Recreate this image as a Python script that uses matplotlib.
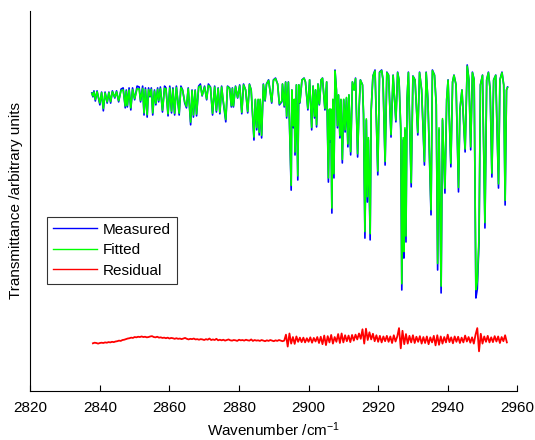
import matplotlib
matplotlib.use("Agg")
import matplotlib.pyplot as plt
import numpy as np

plt.rcParams['font.family'] = ['Liberation Sans', 'DejaVu Sans']
plt.rcParams['mathtext.default'] = 'regular'

# ---- data ----
wavenumber = [
    2837.7, 2838.0, 2838.3, 2838.7, 2839.2, 2840.0, 2840.5, 2841.0, 2841.5, 2842.1,
    2842.6, 2843.1, 2843.6, 2844.3, 2844.8, 2845.4, 2846.1, 2846.7, 2847.3, 2847.6,
    2847.9, 2848.4, 2848.9, 2849.4, 2850.0, 2850.7, 2851.3, 2851.7, 2852.3, 2852.7,
    2853.1, 2853.6, 2854.0, 2854.4, 2854.8, 2855.2, 2855.7, 2856.1, 2856.6, 2856.9,
    2857.4, 2858.0, 2858.6, 2859.0, 2859.6, 2860.1, 2860.6, 2861.0, 2861.5, 2862.0,
    2862.8, 2863.3, 2863.8, 2864.4, 2864.9, 2865.4, 2866.1, 2866.5, 2866.9, 2867.4,
    2867.8, 2868.4, 2868.9, 2869.4, 2870.1, 2870.7, 2871.2, 2871.8, 2872.4, 2873.0,
    2873.5, 2874.0, 2874.5, 2875.0, 2875.4, 2876.2, 2876.7, 2877.3, 2877.8, 2878.1,
    2878.4, 2879.0, 2879.6, 2880.2, 2880.8, 2881.3, 2881.9, 2882.5, 2883.0, 2883.5,
    2884.3, 2884.7, 2885.1, 2885.5, 2885.8, 2886.1, 2886.5, 2887.0, 2887.5, 2887.9,
    2888.5, 2889.4, 2889.9, 2890.5, 2891.1, 2891.6, 2892.3, 2892.5, 2893.0, 2893.4,
    2893.7, 2894.2, 2895.0, 2895.2, 2895.6, 2895.9, 2896.1, 2896.5, 2896.9, 2897.2,
    2897.5, 2898.1, 2898.7, 2899.1, 2899.8, 2900.3, 2900.9, 2901.3, 2901.7, 2902.0,
    2902.3, 2902.7, 2903.1, 2903.6, 2904.0, 2904.7, 2905.2, 2905.7, 2906.0, 2906.2,
    2906.4, 2906.7, 2907.0, 2907.3, 2907.6, 2908.0, 2908.3, 2908.6, 2909.0, 2909.3,
    2909.7, 2910.1, 2910.5, 2910.9, 2911.3, 2911.6, 2912.1, 2912.6, 2913.1, 2913.5,
    2914.1, 2914.5, 2914.9, 2915.5, 2915.8, 2916.2, 2916.6, 2916.9, 2917.2, 2917.7,
    2918.0, 2918.5, 2919.1, 2919.9, 2920.4, 2921.0, 2921.4, 2922.0, 2922.5, 2923.0,
    2923.7, 2924.3, 2925.1, 2925.6, 2926.0, 2926.5, 2926.8, 2927.2, 2927.4, 2927.7,
    2928.0, 2928.3, 2928.7, 2929.5, 2930.0, 2930.6, 2931.4, 2931.9, 2932.5, 2933.3,
    2933.8, 2934.3, 2935.2, 2935.6, 2936.2, 2936.7, 2937.1, 2937.5, 2938.1, 2938.5,
    2939.2, 2939.7, 2940.1, 2940.9, 2941.4, 2941.8, 2942.4, 2943.1, 2943.5, 2944.1,
    2945.0, 2945.6, 2946.1, 2946.6, 2947.1, 2947.6, 2948.1, 2948.5, 2949.0, 2949.4,
    2950.0, 2950.7, 2951.2, 2951.7, 2952.2, 2952.7, 2953.2, 2953.8, 2954.6, 2955.0,
    2955.6, 2956.1, 2956.5, 2956.9, 2957.2,
]

measured = [
    1.000, 0.987, 1.007, 0.973, 1.007, 0.960, 1.003, 0.940, 1.003, 0.966,
    1.003, 0.966, 1.007, 0.983, 1.007, 0.970, 1.013, 1.017, 0.950, 1.010,
    0.953, 1.017, 0.943, 1.017, 0.977, 1.023, 1.020, 0.970, 1.023, 0.926,
    1.017, 0.919, 1.017, 0.987, 1.017, 0.926, 1.010, 0.960, 1.017, 0.970,
    1.020, 0.936, 1.023, 1.017, 0.923, 1.023, 0.933, 1.017, 0.926, 1.023,
    0.926, 1.023, 1.010, 0.966, 0.950, 1.017, 0.893, 1.010, 0.919, 1.010,
    0.923, 1.023, 1.030, 0.990, 1.023, 0.977, 1.030, 1.020, 0.926, 1.023,
    0.936, 1.017, 0.930, 1.023, 0.977, 0.903, 1.023, 1.017, 0.953, 1.017,
    0.953, 1.023, 0.983, 1.027, 0.930, 1.030, 1.010, 0.933, 1.030, 1.010,
    0.842, 0.977, 0.876, 0.977, 0.859, 0.977, 0.849, 1.030, 0.973, 1.030,
    1.044, 0.966, 1.044, 1.050, 1.030, 0.960, 0.970, 1.030, 0.953, 1.037,
    0.916, 1.037, 0.674, 1.010, 0.883, 0.977, 0.792, 1.027, 0.708, 1.027,
    0.966, 1.044, 1.050, 1.037, 0.943, 1.044, 0.876, 1.023, 0.916, 1.010,
    0.886, 1.030, 0.960, 1.044, 1.050, 0.943, 1.037, 0.701, 0.943, 0.836,
    0.943, 0.597, 0.977, 0.715, 1.077, 1.010, 0.883, 0.993, 0.849, 0.977,
    0.765, 0.977, 0.869, 0.983, 0.819, 0.993, 0.792, 1.037, 1.010, 1.050,
    0.785, 0.943, 1.044, 1.027, 0.926, 0.513, 0.909, 0.634, 0.842, 0.507,
    0.943, 1.057, 1.077, 0.725, 1.070, 1.077, 1.044, 0.758, 1.070, 1.060,
    0.852, 1.060, 0.903, 1.070, 1.044, 0.876, 0.339, 0.842, 0.446, 0.876,
    0.500, 0.977, 1.070, 0.685, 1.057, 1.044, 0.859, 1.070, 1.010, 0.758,
    1.070, 0.977, 0.591, 1.077, 1.060, 0.960, 0.406, 0.876, 0.329, 0.909,
    0.664, 0.977, 1.044, 0.752, 1.037, 1.060, 1.027, 0.668, 0.943, 1.010,
    0.802, 1.094, 1.044, 0.809, 1.070, 1.044, 0.312, 0.342, 0.500, 1.027,
    1.060, 0.547, 1.044, 1.070, 1.010, 0.718, 1.044, 1.060, 0.681, 1.044,
    1.070, 1.027, 0.624, 1.010, 1.020,
]

fitted = [
    0.998, 0.990, 1.003, 0.978, 1.004, 0.966, 1.001, 0.948, 1.000, 0.970,
    1.001, 0.971, 1.004, 0.986, 1.004, 0.974, 1.008, 1.010, 0.956, 1.006,
    0.958, 1.010, 0.950, 1.011, 0.981, 1.014, 1.013, 0.975, 1.015, 0.933,
    1.011, 0.927, 1.011, 0.990, 1.012, 0.933, 1.006, 0.965, 1.012, 0.975,
    1.014, 0.942, 1.016, 1.013, 0.930, 1.017, 0.939, 1.013, 0.932, 1.018,
    0.932, 1.018, 1.008, 0.970, 0.955, 1.014, 0.902, 1.008, 0.926, 1.008,
    0.929, 1.019, 1.024, 0.992, 1.020, 0.980, 1.025, 1.018, 0.932, 1.020,
    0.941, 1.015, 0.935, 1.020, 0.980, 0.911, 1.021, 1.015, 0.957, 1.015,
    0.957, 1.021, 0.985, 1.024, 0.935, 1.027, 1.010, 0.938, 1.028, 1.010,
    0.852, 0.979, 0.884, 0.979, 0.868, 0.979, 0.858, 1.028, 0.976, 1.029,
    1.042, 0.970, 1.042, 1.048, 1.030, 0.964, 0.973, 1.030, 0.957, 1.036,
    0.922, 1.036, 0.690, 1.010, 0.890, 0.979, 0.802, 1.027, 0.722, 1.027,
    0.969, 1.043, 1.049, 1.037, 0.948, 1.044, 0.884, 1.023, 0.922, 1.010,
    0.893, 1.030, 0.963, 1.044, 1.049, 0.948, 1.037, 0.715, 0.946, 0.845,
    0.946, 0.614, 0.979, 0.729, 1.074, 1.010, 0.890, 0.994, 0.857, 0.979,
    0.777, 0.979, 0.876, 0.985, 0.829, 0.994, 0.803, 1.037, 1.010, 1.048,
    0.796, 0.946, 1.043, 1.027, 0.930, 0.535, 0.913, 0.652, 0.850, 0.528,
    0.946, 1.056, 1.074, 0.738, 1.068, 1.075, 1.043, 0.770, 1.068, 1.059,
    0.860, 1.059, 0.909, 1.068, 1.043, 0.883, 0.360, 0.850, 0.468, 0.883,
    0.520, 0.979, 1.068, 0.699, 1.056, 1.043, 0.867, 1.068, 1.010, 0.770,
    1.068, 0.979, 0.608, 1.075, 1.059, 0.963, 0.428, 0.883, 0.352, 0.914,
    0.680, 0.979, 1.043, 0.764, 1.037, 1.059, 1.027, 0.683, 0.946, 1.010,
    0.812, 1.090, 1.043, 0.819, 1.068, 1.043, 0.340, 0.368, 0.518, 1.027,
    1.059, 0.565, 1.043, 1.068, 1.010, 0.731, 1.043, 1.059, 0.695, 1.043,
    1.068, 1.027, 0.640, 1.010, 1.018,
]

# residual sampled every 0.5 cm^-1 from 2838.0 to 2957.0
residual_start = 2838.0
residual_step = 0.5
residual = [
    -0.013, -0.011, -0.012, -0.014, -0.012, -0.011, -0.012, -0.010, -0.011, -0.009,
    -0.010, -0.008, -0.009, -0.007, -0.006, -0.004, -0.005, -0.002, -0.001, 0.001,
    0.003, 0.004, 0.006, 0.005, 0.008, 0.007, 0.009, 0.008, 0.010, 0.008,
    0.009, 0.007, 0.008, 0.010, 0.011, 0.008, 0.007, 0.009, 0.006, 0.007,
    0.005, 0.006, 0.004, 0.006, 0.003, 0.005, 0.004, 0.002, 0.004, 0.002,
    0.003, 0.001, 0.003, 0.005, 0.002, 0.000, 0.002, 0.001, 0.003, 0.000,
    0.001, -0.001, 0.001, 0.000, -0.002, 0.001, -0.001, 0.003, -0.002, 0.000,
    -0.002, 0.002, -0.003, -0.001, -0.003, -0.001, -0.004, -0.002, 0.000, -0.003,
    -0.004, -0.002, -0.003, -0.005, -0.001, -0.003, -0.002, -0.004, -0.001, -0.003,
    -0.004, 0.000, -0.005, -0.002, -0.004, -0.003, -0.005, -0.002, -0.004, -0.006,
    -0.003, -0.005, -0.002, -0.004, -0.006, -0.003, -0.005, -0.002, -0.004, -0.006,
    -0.004, 0.016, -0.024, 0.020, -0.014, 0.008, -0.015, 0.010, -0.008, 0.006,
    -0.009, 0.006, -0.010, 0.004, -0.008, 0.007, -0.011, 0.005, -0.007, 0.008,
    -0.012, 0.009, -0.016, 0.013, -0.019, 0.011, -0.010, 0.015, -0.014, 0.008,
    -0.008, 0.018, -0.012, 0.020, -0.010, 0.014, -0.006, 0.013, -0.009, 0.015,
    -0.004, 0.016, 0.000, 0.020, 0.002, 0.034, -0.014, 0.036, -0.002, 0.024,
    0.000, 0.019, -0.006, 0.014, -0.008, 0.012, -0.010, 0.010, -0.006, 0.012,
    -0.008, 0.010, -0.012, 0.014, -0.007, 0.010, 0.038, -0.030, 0.029, -0.016,
    0.018, -0.014, 0.012, -0.010, 0.014, -0.012, 0.009, -0.008, 0.011, -0.014,
    0.008, -0.012, 0.010, -0.016, 0.007, -0.010, 0.012, -0.020, 0.014, -0.018,
    0.010, -0.014, 0.008, -0.010, 0.016, -0.009, 0.007, -0.013, 0.010, -0.008,
    0.009, -0.012, 0.006, -0.010, 0.013, -0.007, 0.008, -0.011, 0.007, -0.014,
    0.016, 0.038, -0.040, 0.019, -0.014, 0.010, -0.008, 0.012, -0.010, 0.007,
    -0.009, 0.011, -0.007, 0.010, -0.012, 0.008, -0.006, 0.014, -0.010,
]
residual_offset = 0.173

x_ticks = [2820, 2840, 2860, 2880, 2900, 2920, 2940, 2960]
series_labels = ["Measured", "Fitted", "Residual"]

# ---- plotting ----
fig = plt.figure(figsize=(5.35, 4.40), dpi=100)
ax = fig.add_axes([0.0566, 0.1114, 0.9103, 0.8636])

res_x = residual_start + residual_step * np.arange(len(residual))
ax.plot(wavenumber, measured, color=(0, 0, 1), lw=1.2, label=series_labels[0])
ax.plot(wavenumber, fitted, color=(0, 1, 0), lw=1.2, label=series_labels[1])
ax.plot(res_x, np.array(residual) + residual_offset, color=(1, 0, 0), lw=1.3,
        label=series_labels[2])

ax.set_xlim(2820, 2960)
ax.set_ylim(0, 1.275)
ax.set_xticks(x_ticks)
ax.set_xticklabels([str(t) for t in x_ticks])
ax.set_yticks([])
ax.tick_params(axis='x', direction='in', length=4, width=0.8, labelsize=11, pad=7)

for s in ['top', 'right']:
    ax.spines[s].set_visible(False)
for s in ['left', 'bottom']:
    ax.spines[s].set_color('black')
    ax.spines[s].set_linewidth(0.8)

ax.set_xlabel("Wavenumber /cm$^{-1}$", fontsize=11, labelpad=4)
ax.set_ylabel("Transmittance /arbitrary units", fontsize=11, labelpad=5)

leg = ax.legend(loc='upper left', bbox_to_anchor=(0.0337, 0.4587), borderaxespad=0,
                fontsize=11, frameon=True, fancybox=False, edgecolor='black',
                handlelength=2.9, handletextpad=0.35, labelspacing=0.42,
                borderpad=0.4)
leg.get_frame().set_linewidth(0.8)
for line in leg.get_lines():
    line.set_linewidth(1.0)

fig.savefig("out.png", dpi=100)
